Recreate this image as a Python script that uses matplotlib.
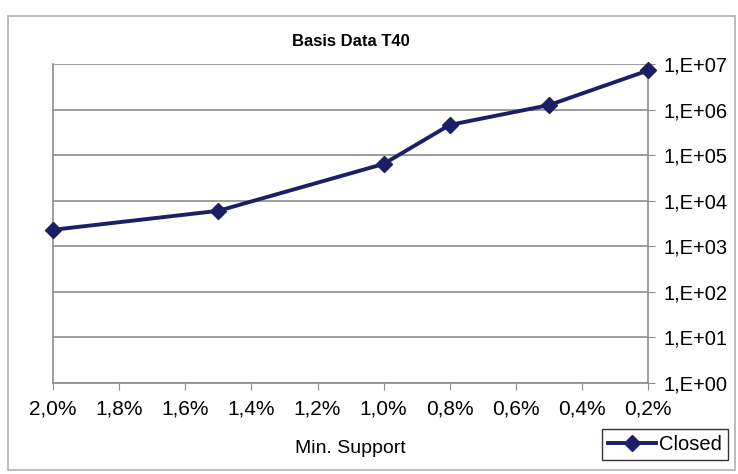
import numpy as np
import matplotlib.pyplot as plt
from matplotlib.patches import Rectangle
from matplotlib.ticker import FixedLocator, FuncFormatter

plt.rcParams['font.family'] = ['Liberation Sans', 'DejaVu Sans']

# data
min_support = [2.0, 1.5, 1.0, 0.8, 0.5, 0.2]   # percent
closed = [2.3e3, 6.0e3, 6.4e4, 4.6e5, 1.25e6, 7.2e6]
x_ticks = [2.0, 1.8, 1.6, 1.4, 1.2, 1.0, 0.8, 0.6, 0.4, 0.2]
y_ticks = [1e0, 1e1, 1e2, 1e3, 1e4, 1e5, 1e6, 1e7]

navy = '#1c1f66'
grid_col = '#8c8c8c'

fig = plt.figure(figsize=(7.38, 4.74), dpi=100)
fig.patches.append(Rectangle((0.011, 0.008), 0.985, 0.958, transform=fig.transFigure,
                             fill=False, edgecolor='#b0b0b0', lw=1.2))
ax = fig.add_axes([0.072, 0.192, 0.806, 0.673])

ax.plot(min_support, closed, color=navy, lw=2.8, marker='D', ms=8.5,
        markerfacecolor=navy, markeredgecolor=navy, label='Closed', clip_on=False, zorder=5)

ax.set_yscale('log')
ax.set_ylim(1e0, 1e7)
ax.set_xlim(2.0, 0.2)
ax.yaxis.set_major_locator(FixedLocator(y_ticks))
ax.yaxis.set_minor_locator(FixedLocator([]))
ax.yaxis.set_major_formatter(FuncFormatter(lambda v, p: '1,E+%02d' % round(np.log10(v))))
ax.yaxis.tick_right()
ax.set_xticks(x_ticks)
ax.set_xticklabels([('%.1f%%' % t).replace('.', ',') for t in x_ticks])

ax.grid(axis='y', color=grid_col, lw=1.2)
for s in ax.spines.values():
    s.set_color(grid_col)
    s.set_linewidth(1.2)
ax.spines['top'].set_visible(False)

ax.tick_params(axis='both', direction='out', length=5, color=grid_col, colors='black')
ax.tick_params(axis='x', pad=7, labelsize=15)
ax.tick_params(axis='y', pad=6, labelsize=14.5)

ax.set_title('Basis Data T40', fontsize=12, fontweight='bold', pad=13)
ax.set_xlabel('Min. Support', fontsize=14)
ax.xaxis.set_label_coords(0.5, -0.18)

leg = ax.legend(loc='lower right', bbox_to_anchor=(0.987, 0.03), bbox_transform=fig.transFigure,
                fontsize=14.5, frameon=True, fancybox=False, handlelength=2.4,
                borderpad=0.3, handletextpad=0.15, borderaxespad=0)
leg.get_frame().set_edgecolor('black')
leg.get_frame().set_linewidth(1.0)

fig.savefig('out.png', dpi=100)
